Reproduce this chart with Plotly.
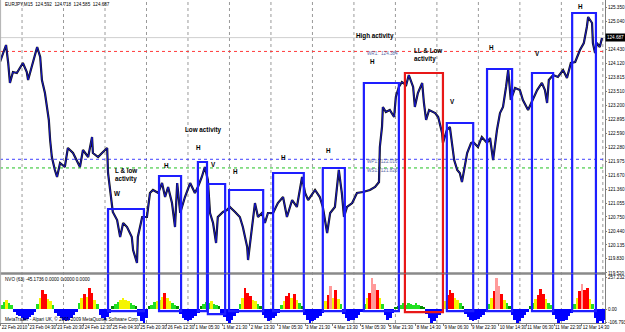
import plotly.graph_objects as go

# ---------------- data ----------------
bars = [0, 7, 14, 19, 23, 30, 39, 53, 62, 65, 76, 86, 93, 97, 104, 109, 113, 116, 120, 127,
        132, 139, 150, 157, 169, 185, 192, 204, 213, 215, 227, 236, 248, 250, 255, 261, 271, 278,
        285, 294, 305, 308, 317, 319, 329, 340, 347, 354, 366, 375, 382, 389, 398, 405, 410, 417,
        428, 440, 451, 458, 467, 474, 481, 486, 493, 500, 504, 516, 525, 532, 544, 555, 562, 572,
        574, 581, 590, 597, 606, 613, 620, 632, 643, 655, 664, 676, 687, 699, 706, 713, 729, 740,
        747, 757, 764, 775, 782, 784, 791, 796, 803, 815, 826, 840, 856, 868, 877, 879, 884, 886,
        893, 902, 912, 916, 923, 930, 940, 946, 956, 960, 967, 977, 981, 986, 993, 1007, 1014,
        1023, 1025, 1034, 1041, 1046, 1051, 1058, 1064, 1069, 1076, 1081, 1090, 1095, 1106, 1115,
        1127, 1134, 1141, 1150, 1157, 1164, 1171, 1176, 1182, 1192, 1203, 1210, 1222, 1233, 1243,
        1254, 1261, 1266, 1270, 1280, 1291, 1303, 1312, 1321, 1331, 1342, 1351, 1358, 1361, 1370,
        1372, 1377, 1381, 1388, 1393]
close = [124.152, 124.349, 124.525, 124.130, 123.691, 123.932, 123.910, 124.130, 123.932, 123.757,
         124.130, 124.481, 124.262, 123.757, 123.471, 123.098, 122.879, 122.439, 122.066, 121.781,
         121.627, 121.934, 121.847, 122.264, 122.154, 121.847, 122.220, 122.066, 122.505, 122.154,
         122.066, 122.154, 122.264, 121.715, 121.276, 120.859, 120.683, 120.310, 120.617, 120.529,
         120.310, 120.024, 119.739, 120.310, 120.749, 120.749, 121.276, 121.342, 121.276, 121.495,
         121.188, 121.408, 121.056, 120.529, 121.495, 120.837, 121.188, 121.495, 121.276, 121.408,
         121.627, 121.847, 121.561, 120.837, 120.617, 120.178, 120.749, 120.859, 120.903, 120.969,
         120.859, 120.749, 120.529, 120.090, 119.805, 120.310, 121.056, 120.749, 120.837, 120.617,
         120.837, 120.837, 121.056, 121.188, 120.749, 121.122, 120.969, 121.627, 121.276, 121.122,
         121.342, 121.188, 120.969, 120.398, 120.837, 120.969, 121.627, 121.781, 121.276, 120.749,
         120.969, 121.056, 121.276, 121.298, 121.342, 121.408, 121.517, 122.286, 122.725, 123.164,
         123.054, 123.098, 122.944, 123.383, 123.603, 123.713, 123.647, 123.866, 123.603, 123.164,
         123.471, 123.691, 123.252, 122.879, 123.098, 123.032, 122.944, 122.593, 122.374, 122.659,
         122.725, 122.374, 122.000, 121.781, 121.715, 121.517, 121.934, 122.154, 122.374, 122.396,
         122.286, 122.505, 122.374, 122.483, 122.000, 122.659, 123.032, 123.164, 123.603, 123.976,
         123.318, 123.581, 123.537, 123.318, 123.098, 123.318, 123.537, 123.691, 123.537, 123.252,
         123.757, 123.866, 123.823, 123.976, 123.801, 124.130, 124.152, 124.415, 124.569, 124.920,
         125.140, 125.008, 124.569, 124.349, 124.569, 124.481, 124.679]

# NVO histogram, one value per 6 bars
nvo_values = [
    30, 55, 75, 45, 35,
    -25, -45, -60, -75, -85, -80, -65, -45, -25,
    40, 90, 155, 120, 80, 60, 35,
    -30, -55, -75, -90, -95, -85, -70, -50, -25,
    50, 90, 120, 95, 170, 130, 70, 40,
    -45, -70, -85, -65, -35,
    25, 40, 55, 70, 90, 75, 60, 45, 35, 20,
    -60, -95, -110, -75,
    20, 35, 55, 60, 75, 95, 130, 85, 60, 45, 30, 20,
    -40, -70, -90, -95, -90, -75, -55, -30,
    25, 40, 55, 45, 60, 40, 30, 20,
    -40, -65, -95, -110, -90, -55, -30,
    40, 90, 170, 130, 100, 75, 60, 40, 25,
    -45, -75, -95, -90, -75, -55, -30,
    30, 60, 100, 130, 90, 120, 70, 45, 25,
    -50, -85, -110, -100, -90, -75, -55, -30,
    60, 110, 180, 90, 150, 80, 40,
    -40, -75, -95, -90, -85, -70, -50, -25,
    40, 90, 130, 250, 200, 150, 90, 40,
    -50, -85, -75, -35,
    15, 25, 35, 45, 30, 50, 40, 30, 45, 35, 20, 15,
    -40, -75, -110, -100, -75, -45, -20,
    60, 110, 150, 130, 90, 70, 45, 25,
    -40, -65, -85, -95, -90, -80, -65, -45, -25,
    40, 90, 140, 250, 180, 120, 70, 45, 25,
    -50, -85, -110, -95, -75, -50, -25,
    25, 50, 80, 110, 160, 120, 80, 50, 30,
    -50, -80, -110, -95, -100, -85, -60, -30,
    40, 90, 140, 200, 150, 170, 80, 40,
    -70, -110, -100, -110, -85,
]
NVO_STEP = 6

price_ticks = [119.520, 119.830, 120.135, 120.440, 120.750, 121.055, 121.360, 121.670, 121.975,
               122.280, 122.590, 122.895, 123.200, 123.510, 123.815, 124.120, 124.430, 125.040, 125.350]
price_tick_text = ["119.520", "119.830", "120.135", "120.440", "120.750", "121.055", "121.360",
                   "121.670", "121.975", "122.280", "122.590", "122.895", "123.200", "123.510",
                   "123.815", "124.120", "124.430", "125.040", "125.350"]
nvo_ticks = [257.232, 0.0, -106.793]
nvo_tick_text = ["257.232", "0.00", "-106.793"]

time_tick_bars = [2, 66, 130, 194, 258, 322, 386, 450, 514, 578, 642, 706, 770, 834, 898,
                  962, 1026, 1090, 1154, 1218, 1282, 1346]
time_tick_text = ["22 Feb 2010", "23 Feb 04:30", "23 Feb 20:30", "24 Feb 12:30", "25 Feb 04:30",
                  "25 Feb 20:30", "26 Feb 12:30", "1 Mar 05:30", "1 Mar 21:30", "2 Mar 13:30",
                  "3 Mar 05:30", "3 Mar 21:30", "4 Mar 13:30", "5 Mar 05:30", "5 Mar 21:30",
                  "8 Mar 14:30", "9 Mar 06:30", "9 Mar 22:30", "10 Mar 14:30", "11 Mar 06:30",
                  "11 Mar 22:30", "12 Mar 14:30"]
day_separator_bars = [51, 147, 243, 339, 435, 531, 627, 723, 819, 915, 1011, 1107, 1203, 1299, 1395]

# activity boxes: left bar, right bar, top price, bottom NVO value, colour
box_left = [250, 368, 458, 481, 530, 632, 747, 842, 937, 1034, 1127, 1231, 1324]
box_right = [333, 419, 479, 521, 609, 703, 798, 923, 1025, 1095, 1185, 1280, 1379]
box_top = [120.925, 121.649, 121.956, 121.473, 121.342, 121.715, 121.825, 123.691, 123.910,
           122.813, 123.998, 123.910, 125.228]
box_bottom = [-14, -14, -14, -38, -14, -14, -14, -14, -22, -14, -14, -14, -14]
box_color = ["#1e1eff"] * 8 + ["#e81818"] + ["#1e1eff"] * 4

pivot_values = [124.384, 122.016, 121.826]
pivot_colors = ["#ff3a3a", "#4040ff", "#20c020"]
last_price = 124.687

PRICE_RANGE = [119.509, 125.513]
NVO_RANGE = [-109.0, 287.7]
SPLIT = 0.1533

# ---------------- figure ----------------
fig = go.Figure()

fig.add_trace(go.Scatter(x=bars, y=close, mode="lines", line=dict(color="#151515", width=2.2),
                         xaxis="x", yaxis="y", hoverinfo="skip"))
fig.add_trace(go.Scatter(x=bars, y=close, mode="lines", line=dict(color="#1414d8", width=0.9),
                         xaxis="x", yaxis="y", hoverinfo="skip"))


def nvo_color(v):
    if v < 0:
        return "#0000ff"
    if v < 30:
        return "#008c00"
    if v < 60:
        return "#22e022"
    if v < 100:
        return "#f5f500"
    if v < 175:
        return "#ff0000"
    return "#ff9a9a"


nvo_x = [i * NVO_STEP + NVO_STEP / 2 for i in range(len(nvo_values))]
fig.add_trace(go.Bar(x=nvo_x, y=nvo_values, width=NVO_STEP,
                     marker=dict(color=[nvo_color(v) for v in nvo_values], line=dict(width=0)),
                     xaxis="x", yaxis="y2", hoverinfo="skip"))

shapes = []
for b in day_separator_bars:
    shapes.append(dict(type="line", xref="x", yref="paper", x0=b, x1=b, y0=0, y1=1,
                       line=dict(color="#9a9a9a", width=1, dash="dot"), layer="below"))
shapes.append(dict(type="line", xref="paper", yref="y", x0=0, x1=1, y0=last_price, y1=last_price,
                   line=dict(color="#cfcfcf", width=1), layer="below"))
for v, c in zip(pivot_values, pivot_colors):
    shapes.append(dict(type="line", xref="paper", yref="y", x0=0, x1=1, y0=v, y1=v,
                       line=dict(color=c, width=1, dash="dot"), layer="below"))
# panel separator and left border
shapes.append(dict(type="line", xref="paper", yref="paper", x0=0, x1=1, y0=SPLIT, y1=SPLIT,
                   line=dict(color="#8a8a8a", width=2.5)))
shapes.append(dict(type="line", xref="paper", yref="paper", x0=0.001, x1=0.001, y0=0, y1=1,
                   line=dict(color="#b0b0b0", width=1)))

for x0, x1, top, bot, c in zip(box_left, box_right, box_top, box_bottom, box_color):
    shapes.append(dict(type="path", xref="x", yref="y",
                       path=f"M {x0},{PRICE_RANGE[0]} L {x0},{top} L {x1},{top} L {x1},{PRICE_RANGE[0]}",
                       line=dict(color=c, width=2.2), layer="above"))
    shapes.append(dict(type="path", xref="x", yref="y2",
                       path=f"M {x0},{NVO_RANGE[1]} L {x0},{bot} L {x1},{bot} L {x1},{NVO_RANGE[1]}",
                       line=dict(color=c, width=2.2), layer="above"))

FONT = "Liberation Sans, Arial, sans-serif"
ann = []


def label(text, x, y, anchor="center", size=6.3, color="#000000", bold=True):
    t = f"<b>{text}</b>" if bold else text
    ann.append(dict(text=t, x=x, y=y, xref="x", yref="y", xanchor=anchor, yanchor="middle",
                    showarrow=False, font=dict(size=size, color=color, family=FONT), align="left"))


label("L &amp; low<br>activity", 261, 121.682, anchor="left")
label("W", 259, 121.276, anchor="left")
label("H", 386, 121.869)
label("Low activity", 470, 122.659)
label("H", 460, 122.264)
label("V", 495, 121.891)
label("H", 546, 121.759)
label("H", 655, 122.066)
label("H", 759, 122.220)
label("High activity", 868, 124.723)
label("H", 861, 124.152)
label("LL &amp; Low<br>activity", 953, 124.295, anchor="left")
label("V", 1046, 123.274)
label("H", 1138, 124.481)
label("V", 1243, 124.328)
label("H", 1344, 125.381)
label("WR1:  124.384", 845, 124.330, anchor="left", size=4.6, color="#5a6aa8", bold=False)
label("WP1:  122.016", 845, 121.968, anchor="left", size=4.6, color="#5a6aa8", bold=False)
label("WS1:  121.826", 845, 121.775, anchor="left", size=4.6, color="#5a6aa8", bold=False)

ann.append(dict(text="EURJPY,M15  124.592  124.718  124.585  124.687", x=0.005, y=0.985,
                xref="paper", yref="paper", xanchor="left", yanchor="middle", showarrow=False,
                font=dict(size=4.6, color="#000000", family=FONT)))
ann.append(dict(text="NVO (63) -45.1736 0.0000 0.0000 0.0000", x=0.005, y=0.136,
                xref="paper", yref="paper", xanchor="left", yanchor="middle", showarrow=False,
                font=dict(size=4.6, color="#000000", family=FONT)))
ann.append(dict(text="MetaTrader - Alpari UK, © 2001-2009 MetaQuotes Software Corp.", x=0.005,
                y=0.012, xref="paper", yref="paper", xanchor="left", yanchor="middle",
                showarrow=False, font=dict(size=4.6, color="#000000", family=FONT)))
ann.append(dict(text=f"{last_price:.3f}", x=1.0, y=last_price, xref="paper", yref="y",
                xanchor="left", yanchor="middle", showarrow=False, bgcolor="#000000",
                font=dict(size=4.6, color="#ffffff", family=FONT), borderpad=1))

fig.update_layout(
    width=625, height=332, margin=dict(l=0, r=20, t=0, b=9),
    paper_bgcolor="#ffffff", plot_bgcolor="#ffffff", showlegend=False,
    font=dict(family=FONT, size=4.6, color="#000000"),
    bargap=0,
    xaxis=dict(range=[0, 1400], anchor="y2", showgrid=False, zeroline=False,
               tickvals=time_tick_bars, ticktext=time_tick_text, tickangle=0,
               ticklabelposition="outside right", ticks="outside", ticklen=2, tickcolor="#808080",
               showline=True, linecolor="#808080", linewidth=1, tickfont=dict(size=4.5),
               automargin=False),
    yaxis=dict(domain=[SPLIT, 1], range=PRICE_RANGE, side="right", showgrid=False, zeroline=False,
               tickvals=price_ticks, ticktext=price_tick_text, ticks="outside", ticklen=1,
               tickcolor="#808080", showline=True, linecolor="#808080", linewidth=1,
               tickfont=dict(size=4.6), automargin=False),
    yaxis2=dict(domain=[0, SPLIT], range=NVO_RANGE, side="right", showgrid=False, zeroline=False,
                tickvals=nvo_ticks, ticktext=nvo_tick_text, ticks="outside", ticklen=1,
                tickcolor="#808080", showline=True, linecolor="#808080", linewidth=1,
                tickfont=dict(size=4.6), automargin=False),
    shapes=shapes, annotations=ann,
)

fig.write_html("out.html")
